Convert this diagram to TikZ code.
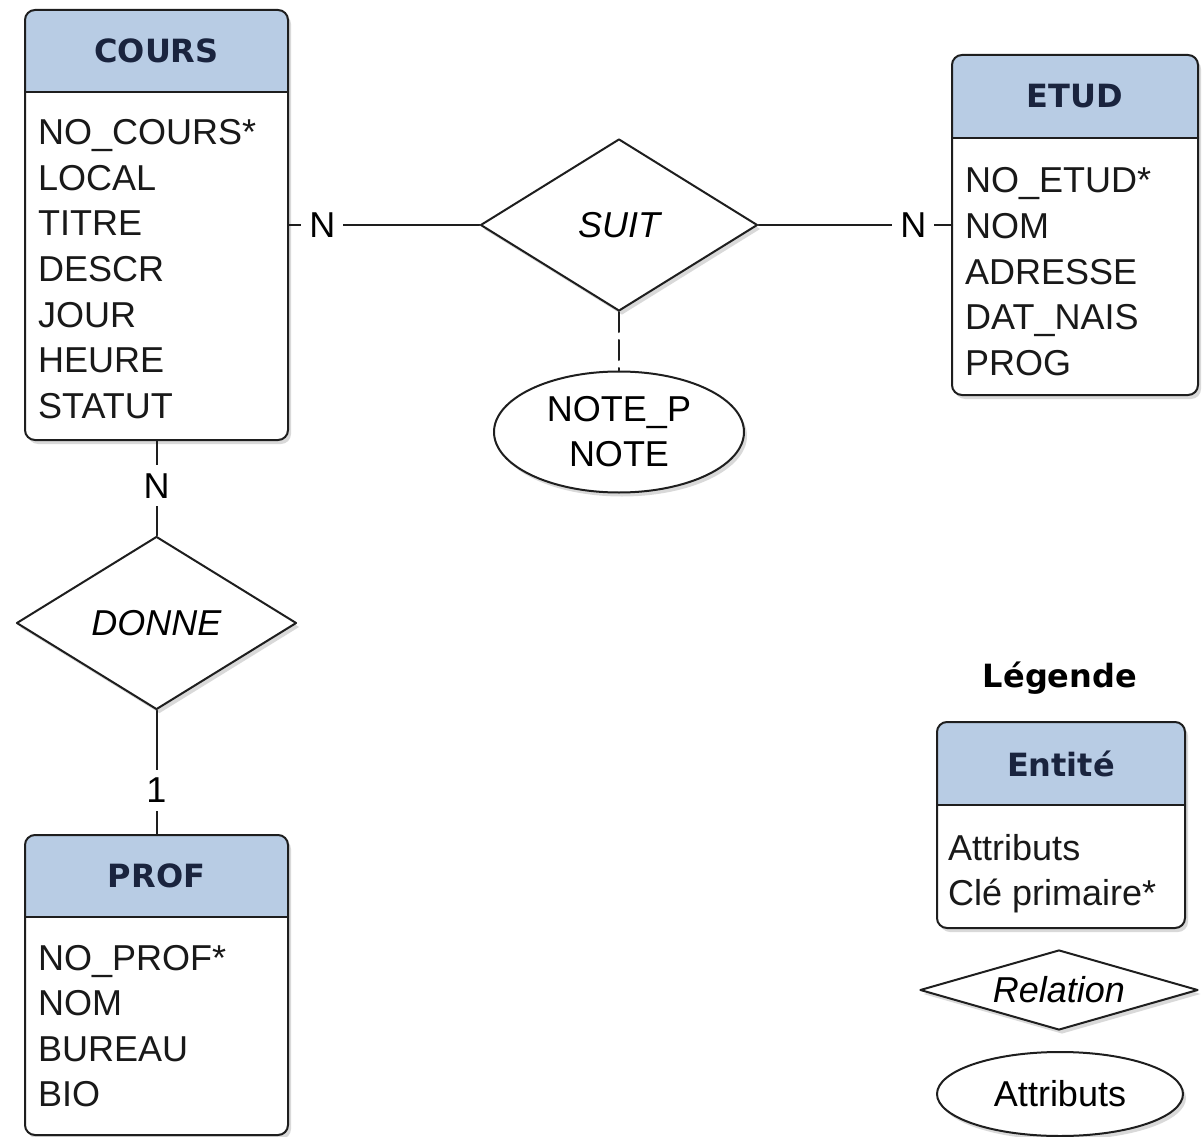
\documentclass[tikz,border=0pt]{standalone}
\usepackage{fontspec}
\setmainfont{Liberation Sans}
\newfontfamily\titrefont{DejaVu Sans}
\usetikzlibrary{shapes.geometric,shadows}
\definecolor{entete}{RGB}{184,204,228}
\definecolor{titre}{RGB}{26,36,62}
\definecolor{trait}{RGB}{30,30,30}

% entite : nom, centre x, centre y, largeur, hauteur, hauteur entete, titre
\newcommand{\entite}[7]{%
	\node[boite, minimum width=#4, minimum height=#5] (#1) at (#2,#3) {};
	\begin{scope}
		\clip (#1.north west) rectangle ([yshift=-#6]#1.north east);
		\fill[entete, rounded corners=10pt] (#1.south west) rectangle (#1.north east);
	\end{scope}
	\draw[trait] ([yshift=-#6]#1.north west) -- ([yshift=-#6]#1.north east);
	\draw[trait, rounded corners=10pt] (#1.south west) rectangle (#1.north east);
	\node[titre] (#1-titre) at ([yshift=-#6/2]#1.north) {#7};
}

\begin{document}
\begin{tikzpicture}[x=1pt, y=1pt, line join=round, line cap=round,
	trait/.style={draw=trait, line width=2pt},
	ombre/.style={drop shadow={shadow xshift=3pt, shadow yshift=-4pt, fill=black, opacity=0.15}},
	boite/.style={rectangle, inner sep=0pt, outer sep=0pt, fill=white, rounded corners=10pt, ombre},
	titre/.style={inner sep=0pt, text=titre, font=\titrefont\bfseries\fontsize{32}{36}\selectfont},
	attr/.style={anchor=base west, inner sep=0pt, text=black!90, font=\fontsize{36}{45}\selectfont},
	relation/.style={diamond, trait, fill=white, inner sep=0pt, ombre, font=\itshape\fontsize{36}{45}\selectfont},
	attribut/.style={ellipse, trait, fill=white, inner sep=0pt, ombre, align=center, font=\fontsize{36}{45}\selectfont},
	card/.style={fill=white, inner sep=8pt, font=\fontsize{36}{45}\selectfont}]
	\def\pas{45.5}
	\useasboundingbox (0,0) rectangle (1203,-1137);
	% entites
	\entite{cours}{156.5}{-225}{263}{430}{82}{COURS}
	\foreach \t [count=\i] in {NO\_COURS*,LOCAL,TITRE,DESCR,JOUR,HEURE,STATUT}
	\node[attr] (cours-a\i) at (38,{-145-\pas*(\i-1)}) {\t};
	\entite{etud}{1075}{-225}{246}{340}{83}{ETUD}
	\foreach \t [count=\i] in {NO\_ETUD*,NOM,ADRESSE,DAT\_NAIS,PROG}
	\node[attr] (etud-a\i) at (965,{-193-\pas*(\i-1)}) {\t};
	\entite{prof}{156.5}{-985}{263}{300}{82}{PROF}
	\foreach \t [count=\i] in {NO\_PROF*,NOM,BUREAU,BIO}
	\node[attr] (prof-a\i) at (38,{-970-\pas*(\i-1)}) {\t};
	% relations
	\node[relation, aspect=1.6, minimum width=277, minimum height=172] (suit) at (619,-225) {SUIT};
	\node[relation, aspect=1.6, minimum width=280, minimum height=173] (donne) at (156.5,-623) {DONNE};
	\node[attribut, minimum width=250, minimum height=121] (notep) at (619,-432) {NOTE\_P\\NOTE};
	% liens
	\draw[trait] (cours.east) -- node[card, pos=0.18] (card-cs) {N} (suit.west);
	\draw[trait] (suit.east) -- node[card, pos=0.8] (card-se) {N} (etud.west);
	\draw[trait] (cours.south) -- node[card, pos=0.48] (card-cd) {N} (donne.north);
	\draw[trait] (donne.south) -- node[card, pos=0.64] (card-dp) {1} (prof.north);
	\draw[trait, dash pattern=on 20pt off 8pt] (suit.south) -- (notep.north);
	% legende
	\node[titre, text=black] (legende) at (1060,-678) {Légende};
	\entite{leg}{1061}{-825}{248}{206}{83}{Entité}
	\foreach \t [count=\i] in {Attributs,Clé primaire*}
	\node[attr] (leg-a\i) at (948,{-860-\pas*(\i-1)}) {\t};
	\node[relation, aspect=3.4, minimum width=278, minimum height=80] (leg-rel) at (1059,-990) {Relation};
	\node[attribut, minimum width=246, minimum height=84] (leg-att) at (1060,-1094) {Attributs};
\end{tikzpicture}
\end{document}
